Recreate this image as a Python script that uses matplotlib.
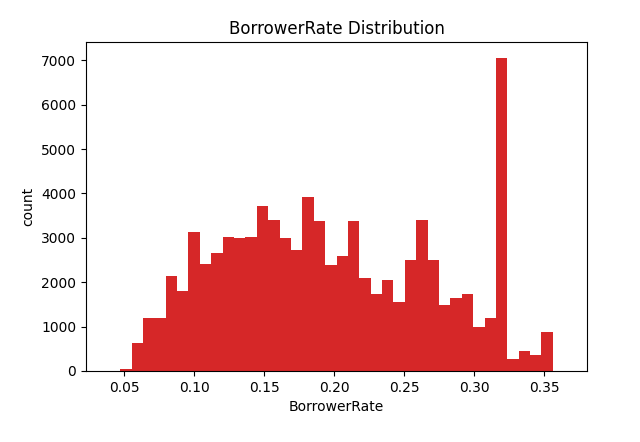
import numpy as np
import matplotlib.pyplot as plt

counts = [0, 50, 630, 1200, 1200, 2130, 1800, 3130, 2420, 2650, 3030, 3000, 3030,
          3720, 3400, 3000, 2730, 3920, 3370, 2380, 2590, 3370, 2100, 1730, 2060,
          1560, 2510, 3400, 2510, 1480, 1640, 1740, 1000, 1200, 7060, 280, 440,
          370, 880, 0]
rate_min, rate_max = 0.039, 0.3645

edges = np.linspace(rate_min, rate_max, len(counts) + 1)
centers = (edges[:-1] + edges[1:]) / 2

fig = plt.figure(figsize=(6.4, 4.42), dpi=100)
ax = fig.add_axes([86 / 640, 1 - 371 / 442, (587 - 86) / 640, (371 - 42) / 442])
ax.hist(centers, bins=edges, weights=counts, color='#d62728')
ax.set_title('BorrowerRate Distribution')
ax.set_xlabel('BorrowerRate')
ax.set_ylabel('count')
fig.savefig('out.png')
